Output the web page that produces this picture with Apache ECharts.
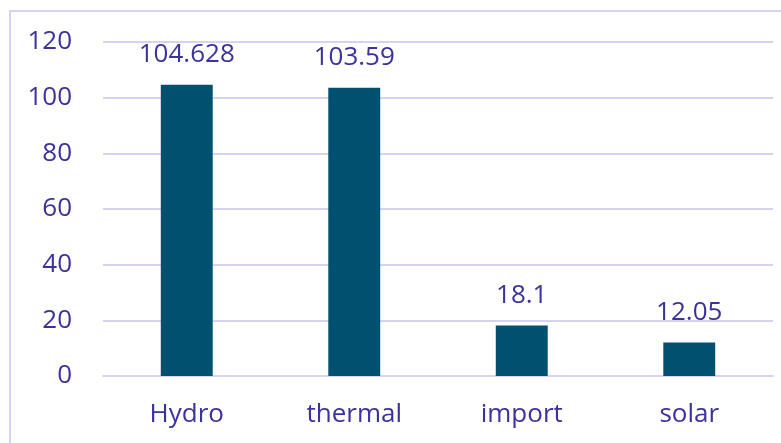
<!DOCTYPE html>
<html>
<head>
<meta charset="utf-8">
<script src="https://cdn.jsdelivr.net/npm/echarts@6/dist/echarts.min.js"></script>
<style>
  html, body { margin: 0; padding: 0; background: #fff; }
  #main { width: 781px; height: 443px; }
</style>
</head>
<body>
<div id="main"></div>
<script>
const categories = ['Hydro', 'thermal', 'import', 'solar'];
const values = [104.628, 103.59, 18.1, 12.05];

const textColor = '#3B329B';
const lineColor = '#D6D2F0';

const chart = echarts.init(document.getElementById('main'));
const option = {
    animation: false,
    textStyle: { fontFamily: 'Open Sans' },
    graphic: [{
        type: 'rect',
        shape: { x: 10, y: 11, width: 900, height: 600 },
        style: { fill: 'none', stroke: lineColor, lineWidth: 2 },
        silent: true
    }],
    grid: { left: 103, right: 8, top: 42, bottom: 67 },
    xAxis: {
        type: 'category',
        data: categories,
        axisLine: { lineStyle: { color: lineColor, width: 2 } },
        axisTick: { show: false },
        axisLabel: { color: textColor, fontSize: 26, margin: 26 }
    },
    yAxis: {
        type: 'value',
        min: 0,
        max: 120,
        interval: 20,
        axisLine: { show: false },
        axisTick: { show: false },
        axisLabel: { color: textColor, fontSize: 26, margin: 31 },
        splitLine: { lineStyle: { color: lineColor, width: 2 } }
    },
    series: [{
        type: 'bar',
        data: values,
        barWidth: '31%',
        itemStyle: { color: '#02506F' },
        label: {
            show: true,
            position: 'top',
            distance: 17,
            color: textColor,
            fontSize: 26
        }
    }]
};
chart.setOption(option);
</script>
</body>
</html>
